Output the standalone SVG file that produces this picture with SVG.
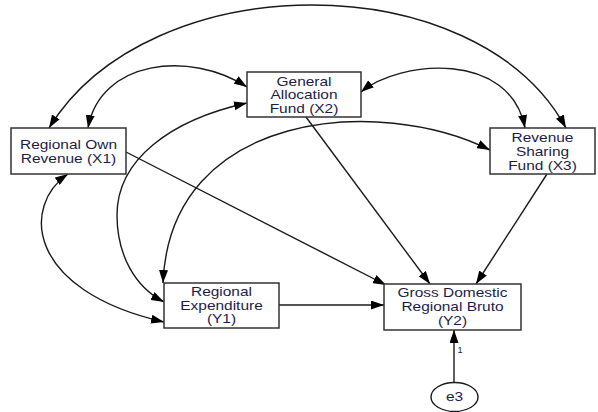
<svg xmlns="http://www.w3.org/2000/svg" width="598" height="412" viewBox="0 0 598 412">
<style>
.box{fill:#fff;stroke:#333;stroke-width:1.5}
.lbl{font-family:"Liberation Sans",Arial,sans-serif;font-size:13px;fill:#1c1c4c;text-anchor:middle}
.c{fill:none;stroke:#1a1a1a;stroke-width:1.4}
.one{marker-end:url(#ah)}
.two{marker-start:url(#ah);marker-end:url(#ah)}
</style>
<defs>
<marker id="ah" markerUnits="userSpaceOnUse" markerWidth="13" markerHeight="9" refX="13" refY="4.5" orient="auto-start-reverse">
<path d="M0,0 L13,4.5 L0,9 z" fill="#000"/>
</marker>
</defs>
<rect width="598" height="412" fill="#fff"/>
<g id="connectors">
<path class="c two" d="M49,128 C150,-36 477,-36 566,128"/>
<path class="c two" d="M88,128 C100,60 190,50 247,87"/>
<path class="c two" d="M361,92 C400,60 510,50 525,128"/>
<path class="c two" d="M247,103 C170,120 117,160 117,215 C117,255 135,287 164,302"/>
<path class="c two" d="M490,150 C380,95 170,110 163,283"/>
<path class="c two" d="M68,174 C22,205 25,290 164,322"/>
<path class="c one" d="M126,152 L386,285"/>
<path class="c one" d="M306,117 L430,284"/>
<path class="c one" d="M547,174 L476,284"/>
<path class="c one" d="M279,305 L384,305"/>
<path class="c one" d="M454,382 L454,330"/>
<text x="460" y="353" style="font-family:'Liberation Sans',Arial,sans-serif;font-size:9px;fill:#1c1c4c;text-anchor:middle">1</text>
</g>
<g id="X1">
<rect class="box" x="11" y="128" width="115" height="46"/>
<g transform="translate(68.5,0) scale(1.19,1)"><text class="lbl" x="0" y="149">Regional Own</text><text class="lbl" x="0" y="163">Revenue (X1)</text></g>
</g>
<g id="X2">
<rect class="box" x="247" y="72" width="114" height="45"/>
<g transform="translate(304,0) scale(1.19,1)"><text class="lbl" x="0" y="86">General</text><text class="lbl" x="0" y="99.5">Allocation</text><text class="lbl" x="0" y="113">Fund (X2)</text></g>
</g>
<g id="X3">
<rect class="box" x="490" y="128" width="105" height="46"/>
<g transform="translate(542.5,0) scale(1.19,1)"><text class="lbl" x="0" y="142">Revenue</text><text class="lbl" x="0" y="156.5">Sharing</text><text class="lbl" x="0" y="170">Fund (X3)</text></g>
</g>
<g id="Y1">
<rect class="box" x="164" y="283" width="115" height="45"/>
<g transform="translate(221.5,0) scale(1.19,1)"><text class="lbl" x="0" y="296">Regional</text><text class="lbl" x="0" y="310">Expenditure</text><text class="lbl" x="0" y="323.5">(Y1)</text></g>
</g>
<g id="Y2">
<rect class="box" x="384" y="284" width="137" height="46"/>
<g transform="translate(452.5,0) scale(1.19,1)"><text class="lbl" x="0" y="297">Gross Domestic</text><text class="lbl" x="0" y="311.5">Regional Bruto</text><text class="lbl" x="0" y="325">(Y2)</text></g>
</g>
<g id="e3">
<ellipse cx="454.5" cy="397" rx="23.5" ry="14.5" fill="#fff" stroke="#1a1a1a" stroke-width="1.4"/>
<g transform="translate(454.5,0) scale(1.19,1)"><text class="lbl" x="0" y="401.5">e3</text></g>
</g>
</svg>
